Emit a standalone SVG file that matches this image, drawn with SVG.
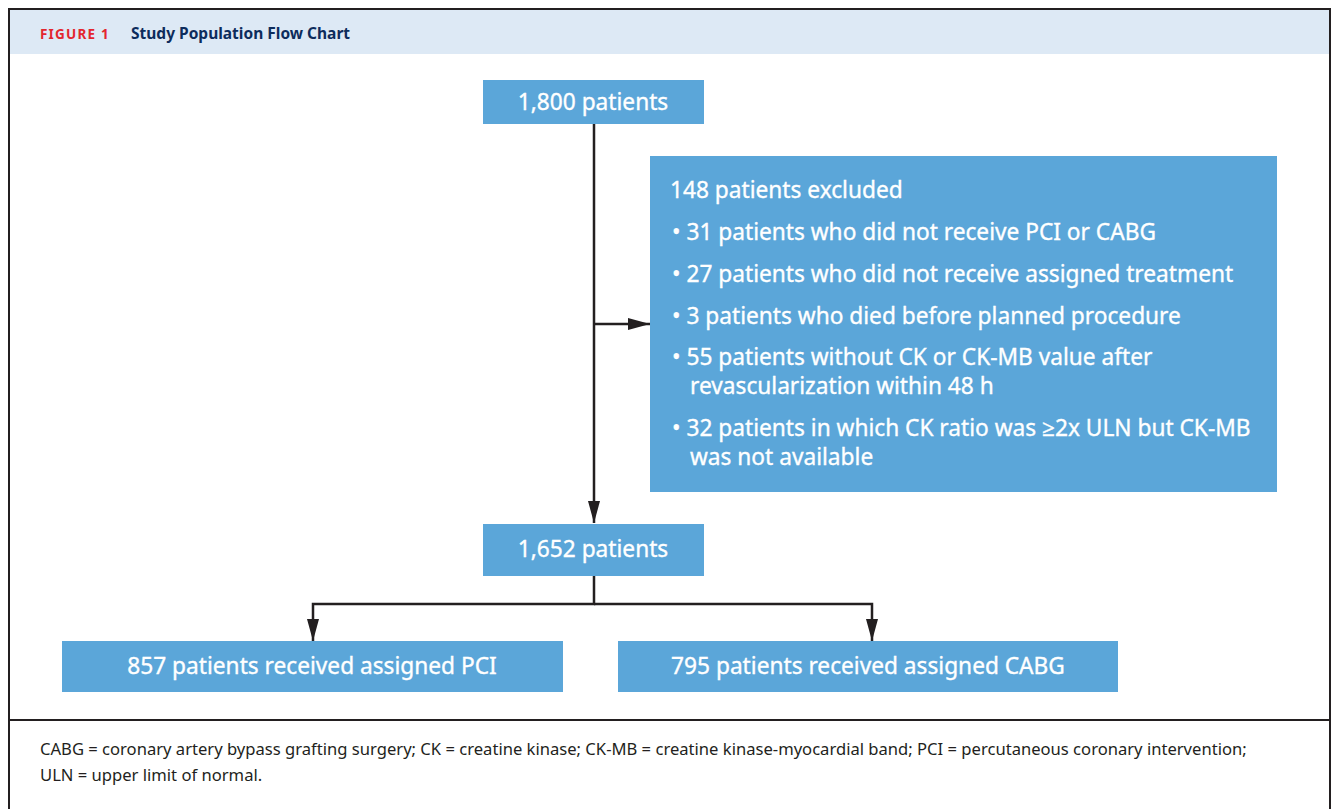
<svg xmlns="http://www.w3.org/2000/svg" width="1336" height="809" viewBox="0 0 1336 809">
<defs>
<style>
.box{fill:#5ba6d9;}
.t{font-family:"Noto Sans","Open Sans",sans-serif;fill:#ffffff;font-size:22.7px;stroke:#ffffff;stroke-width:0.35px;}
.c{text-anchor:middle;}
.line{stroke:#231f20;stroke-width:2.5;fill:none;}
.foot{font-family:"Noto Sans","Open Sans",sans-serif;fill:#231f20;font-size:16.6px;}
</style>
<marker id="ah" markerWidth="22" markerHeight="12" refX="22" refY="6" orient="auto" markerUnits="userSpaceOnUse">
<path d="M0,0 L22,6 L0,12 Z" fill="#231f20"/>
</marker>
</defs>
<rect x="0" y="0" width="1336" height="809" fill="#ffffff"/>
<rect x="9" y="9" width="1321" height="45" fill="#dde9f5"/>
<path d="M9,820 V9 H1330 V820" stroke="#231f20" stroke-width="2" fill="none"/>
<line x1="9" y1="720" x2="1330" y2="720" stroke="#231f20" stroke-width="2"/>
<text x="40" y="39" font-family="'Noto Sans','Open Sans',sans-serif" font-weight="bold" font-size="13.5" fill="#e3262e" letter-spacing="1.2">FIGURE 1</text>
<text x="131" y="39" font-family="'Noto Sans','Open Sans',sans-serif" font-weight="bold" font-size="15.5" fill="#0d2c5c">Study Population Flow Chart</text>

<g id="connectors">
<line class="line" x1="594" y1="124" x2="594" y2="523" marker-end="url(#ah)"/>
<line class="line" x1="594" y1="324" x2="650" y2="324" marker-end="url(#ah)"/>
<path class="line" d="M594,576 V604 H313 V641" marker-end="url(#ah)"/>
<path class="line" d="M594,604 H872 V641" marker-end="url(#ah)"/>
</g>

<g id="n1800">
<rect class="box" x="483" y="80" width="221" height="44"/>
<text class="t c" x="593" y="110">1,800 patients</text>
</g>
<g id="nexcluded">
<rect class="box" x="650" y="156" width="627" height="336"/>
<text class="t" x="670" y="198">148 patients excluded</text>
<text class="t" x="672" y="240">• 31 patients who did not receive PCI or CABG</text>
<text class="t" x="672" y="282">• 27 patients who did not receive assigned treatment</text>
<text class="t" x="672" y="324">• 3 patients who died before planned procedure</text>
<text class="t" x="672" y="365">• 55 patients without CK or CK-MB value after</text>
<text class="t" x="690" y="394">revascularization within 48 h</text>
<text class="t" x="672" y="436">• 32 patients in which CK ratio was ≥2x ULN but CK-MB</text>
<text class="t" x="690" y="465">was not available</text>
</g>
<g id="n1652">
<rect class="box" x="483" y="524" width="221" height="52"/>
<text class="t c" x="593" y="557">1,652 patients</text>
</g>
<g id="npci">
<rect class="box" x="62" y="641" width="501" height="51"/>
<text class="t c" x="312" y="674">857 patients received assigned PCI</text>
</g>
<g id="ncabg">
<rect class="box" x="618" y="641" width="500" height="51"/>
<text class="t c" x="868" y="674">795 patients received assigned CABG</text>
</g>

<text class="foot" x="40" y="755">CABG = coronary artery bypass grafting surgery; CK = creatine kinase; CK-MB = creatine kinase-myocardial band; PCI = percutaneous coronary intervention;</text>
<text class="foot" x="40" y="781">ULN = upper limit of normal.</text>
</svg>
